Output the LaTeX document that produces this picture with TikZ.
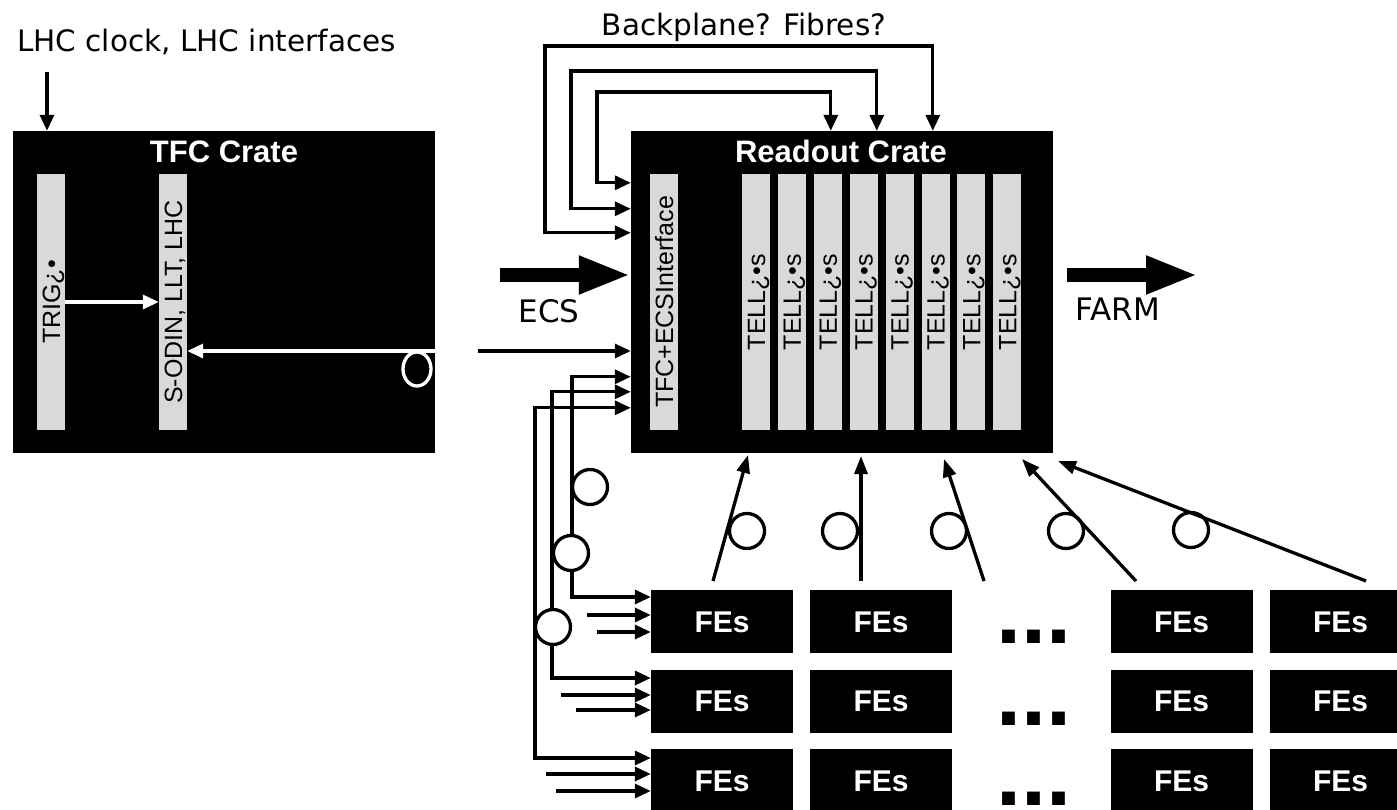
\documentclass[tikz,border=0pt]{standalone}
\usepackage{fontspec}
\setmainfont{Liberation Sans}
\newfontfamily\dvs{DejaVu Sans}
\usetikzlibrary{arrows.meta,calc}
\begin{document}
\begin{tikzpicture}[x=1pt,y=-1pt,
  crate/.style={fill=black, inner sep=0pt, minimum width=422pt, minimum height=322pt},
  cratetitle/.style={text=white, font=\bfseries\fontsize{31}{36}\selectfont, anchor=base, inner sep=0pt},
  bar/.style={fill=black!15, rotate=90, minimum width=255pt, minimum height=28pt, inner sep=0pt,
              text height=18pt, text depth=0pt, font=\fontsize{25}{30}\selectfont},
  fe/.style={fill=black, text=white, font=\bfseries\fontsize{30}{36}\selectfont, minimum width=142pt,
             minimum height=63pt, inner sep=0pt, text height=21.5pt, text depth=0pt},
  lbl/.style={font=\dvs\fontsize{29.5}{35}\selectfont, inner sep=0pt},
  biglbl/.style={font=\dvs\fontsize{31}{36}\selectfont, inner sep=0pt, anchor=base},
  dots/.style={font=\bfseries\fontsize{90}{90}\selectfont, inner sep=0pt, anchor=base,
               text height=13pt, text depth=0pt},
  wire/.style={line width=3.3pt},
  tip/.style={-{Triangle[length=16pt,width=14pt]}},
  bitip/.style={{Triangle[length=16pt,width=14pt]}-{Triangle[length=16pt,width=14pt]}},
  fat/.style={line width=14pt, -{Triangle[length=52pt,width=35pt]}},
  coil/.style={circle, draw, line width=3.3pt, minimum size=35pt, inner sep=0pt},
]
\useasboundingbox (0,0) rectangle (1397,810);
\clip (0,0) rectangle (1397,810);

% ---------- crates ----------
\node[crate] (tfc) at (224,292) {};
\node[crate] (ro) at (842,292) {};
\node[cratetitle] (tfctitle) at (224,163) {TFC Crate};
\node[cratetitle] (rotitle) at (841,163) {Readout Crate};

\node[bar] (trig) at (51,302) {TRIG¿•};
\node[bar] (sodin) at (173,302) {S-ODIN, LLT, LHC};
\node[bar] (iface) at (664,302) {TFC+ECSInterface};
\foreach \i in {0,...,7}{
  \node[bar] (tell\i) at (756+35.9*\i,302) {TELL¿•s};
}

% ---------- labels ----------
\node[lbl, anchor=base west] (lhc) at (17,52) {LHC clock, LHC interfaces};
\node[lbl, anchor=base] (bp) at (744,36) {Backplane? Fibres?};
\node[biglbl] (ecs) at (549,322) {ECS};
\node[biglbl] (farm) at (1118,320) {FARM};

% ---------- LHC clock arrow ----------
\coordinate (lhcsrc) at (47,72);
\draw[wire,tip] (lhcsrc) -- (lhcsrc |- tfc.north);

% ---------- TFC internal ----------
\draw[wire,white,tip] (trig.south) -- (sodin.north);
\coordinate (tfcout) at (478,351);
\draw[wire,white,tip] (tfc.east |- tfcout) -- (tfcout -| sodin.south);
\draw[white, line width=3.3pt] (417,369) ellipse [x radius=14pt, y radius=17pt];
\draw[wire,tip] (tfcout) -- (tfcout -| ro.west);

% ---------- backplane loops ----------
\coordinate (l1a) at ($(ro.north west)+(0,102)$);
\coordinate (l1b) at ($(ro.north west)+(302,0)$);
\coordinate (l2a) at ($(ro.north west)+(0,78)$);
\coordinate (l2b) at ($(ro.north west)+(246,0)$);
\coordinate (l3a) at ($(ro.north west)+(0,52)$);
\coordinate (l3b) at ($(ro.north west)+(200,0)$);
\draw[wire,bitip] (l1a) -| (545,46) -| (l1b);
\draw[wire,bitip] (l2a) -| (571,71) -| (l2b);
\draw[wire,bitip] (l3a) -| (597,92) -| (l3b);

% ---------- ECS / FARM ----------
\coordinate (ecs0) at (500,275);
\draw[fat] (ecs0) -- (ecs0 -| ro.west);
\coordinate (farm1) at (1198,275);
\draw[fat] ($(ro.east |- farm1)+(14,0)$) -- (farm1);

% ---------- FEs ----------
\foreach \r/\y in {1/621.5,2/701,3/780.5}{
  \foreach \c/\x in {1/722,2/881,3/1181.5,4/1340.5}{
    \node[fe] (fe\r\c) at (\x,\y) {FEs};
  }
}
\node[dots] (dots1) at (1034,643) {...};
\node[dots] (dots2) at (1034,725) {...};
\node[dots] (dots3) at (1034,805) {...};

% ---------- TFC/ECS buses to FEs ----------
\coordinate (bA) at (572,597);
\coordinate (bB) at (552,678);
\coordinate (bC) at (535,758);
\draw[wire,bitip] ($(ro.north west)+(0,246)$) -| (bA) -- (bA -| fe11.west);
\draw[wire,bitip] ($(ro.north west)+(0,261)$) -| (bB) -- (bB -| fe21.west);
\draw[wire,bitip] ($(ro.north west)+(0,277)$) -| (bC) -- (bC -| fe31.west);

\foreach \n/\x/\y/\row in {a1/587/615/1, a2/597/632/1, b1/561/695/2, b2/576/710/2, c1/546/774/3, c2/556/791/3}{
  \coordinate (x\n) at (\x,\y);
  \draw[wire,tip] (x\n) -- (x\n -| fe\row1.west);
}

\node[coil, fill=white] (cA) at (590,487) {};
\node[coil, fill=white] (cB) at (571,553) {};
\node[coil, fill=white] (cC) at (553,627) {};

% ---------- FE to readout links ----------
\foreach \n/\sx/\tx/\ty in {1/713/748/455, 2/861/861/456, 3/984/944/459, 4/1136/1022/459, 5/1366/1058/461}{
  \coordinate (us\n) at (\sx,581);
  \coordinate (ut\n) at (\tx,\ty);
  \draw[wire,-{Triangle[length=18pt,width=13pt]}] (us\n) -- (ut\n);
}
\node[coil] (k1) at (747,531) {};
\node[coil] (k2) at (840,531) {};
\node[coil] (k3) at (949,531) {};
\node[coil] (k4) at (1066,531) {};
\node[coil] (k5) at (1191,530) {};

\end{tikzpicture}
\end{document}
